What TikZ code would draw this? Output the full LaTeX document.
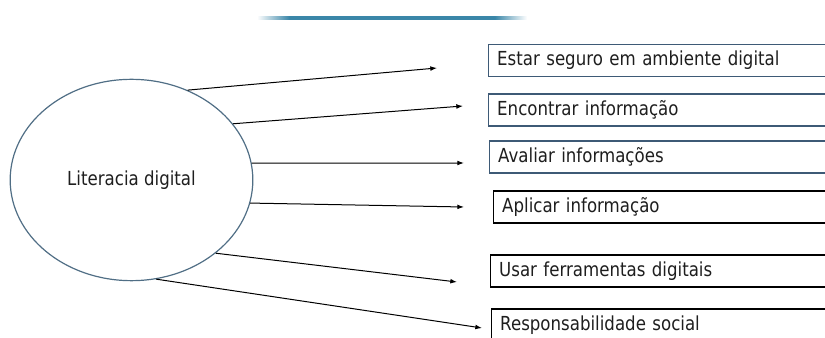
\documentclass[tikz,border=0pt]{standalone}
\usepackage{fontspec}
\setmainfont{DejaVu Sans}[FakeStretch=0.86]
\usetikzlibrary{arrows.meta,shapes.geometric}
\definecolor{lineblue}{HTML}{3A86A8}
\definecolor{ovalline}{HTML}{506E85}
\definecolor{boxline}{HTML}{3E5A76}
\definecolor{textgray}{HTML}{1E1E1E}
\pgfdeclarehorizontalshading{rulefade}{100bp}{color(0bp)=(white); color(25bp)=(white); color(31bp)=(lineblue); color(69bp)=(lineblue); color(75bp)=(white); color(100bp)=(white)}
\tikzset{
    oval/.style={ellipse, draw=ovalline, line width=0.9pt, inner sep=0pt,
        minimum width=182pt, minimum height=151pt, text=textgray, font=\fontsize{14.5}{16}\selectfont},
    itembox/.style={rectangle, draw=#1, line width=0.8pt, anchor=west, inner xsep=6.5pt, inner ysep=0pt,
        minimum height=24pt, text width=240pt, align=left, text=textgray, font=\fontsize{14.5}{16}\selectfont},
    itembox/.default=black,
    arr/.style={-{Latex[length=5pt,width=3.6pt]}, line width=0.75pt, black}
}
\begin{document}
\begin{tikzpicture}[x=0.75pt, y=-0.75pt]
        \useasboundingbox (0,0) rectangle (825,338);
        \clip (0,0) rectangle (825,338);

        % header rule
        \shade[shading=rulefade] (257,16.6) rectangle (527,19.4);

        \node[oval] (lit) at (131.5,180) {Literacia digital};

        \node[itembox=boxline] (seguro) at (488,60.5) {Estar seguro em ambiente digital};
        \node[itembox=boxline] (encontrar) at (488,110) {Encontrar informação};
        \node[itembox=boxline] (avaliar) at (489,157) {Avaliar informações};
        \node[itembox] (aplicar) at (493,207) {Aplicar informação};
        \node[itembox] (usar) at (490,271) {Usar ferramentas digitais};
        \node[itembox] (resp) at (491,325) {Responsabilidade social};

        \coordinate (e1) at (437,68);
        \coordinate (e2) at (463,106);
        \coordinate (e3) at (464,163);
        \coordinate (e4) at (464,207);
        \coordinate (e5) at (457,282);
        \coordinate (e6) at (482,328);

        \draw[arr] (lit.58) -- (e1);
        \draw[arr] (lit.29) -- (e2);
        \draw[arr] (lit.8) -- (e3);
        \draw[arr] (lit.-11) -- (e4);
        \draw[arr] (lit.-41) -- (e5);
        \draw[arr] (lit.-76) -- (e6);
    \end{tikzpicture}
\end{document}
